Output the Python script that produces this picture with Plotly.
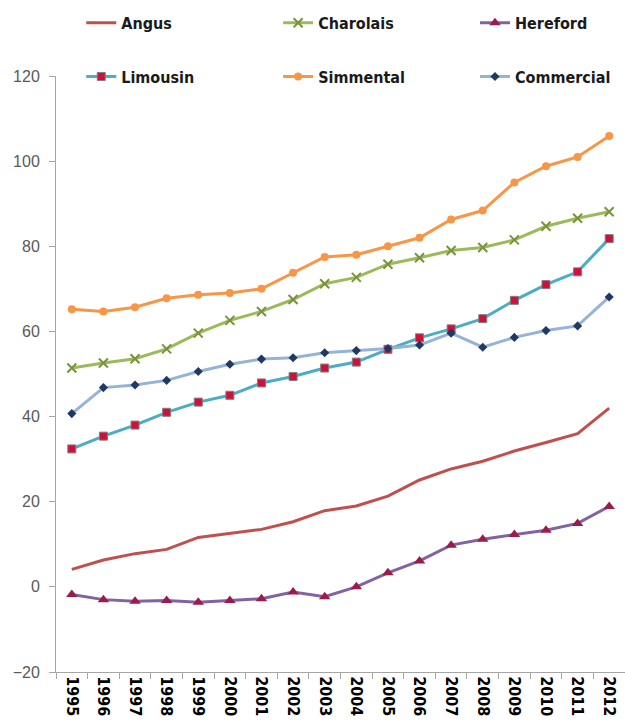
import plotly.graph_objects as go

years = [str(y) for y in range(1995, 2013)]
angus = [4.1, 6.3, 7.8, 8.8, 11.6, 12.6, 13.5, 15.3, 17.9, 19.0, 21.3, 25.1, 27.7, 29.5, 31.9, 33.9, 36.0, 42.0]
charolais = [51.4, 52.6, 53.6, 55.9, 59.6, 62.6, 64.7, 67.5, 71.2, 72.7, 75.8, 77.3, 79.0, 79.7, 81.5, 84.7, 86.6, 88.1]
hereford = [-1.8, -3.0, -3.4, -3.2, -3.6, -3.2, -2.8, -1.2, -2.3, 0.0, 3.3, 6.1, 9.8, 11.2, 12.3, 13.3, 14.9, 18.9]
limousin = [32.4, 35.4, 38.0, 41.0, 43.4, 45.0, 47.9, 49.4, 51.4, 52.8, 55.8, 58.5, 60.6, 63.0, 67.3, 71.0, 74.0, 81.8]
simmental = [65.2, 64.7, 65.7, 67.8, 68.6, 69.0, 70.0, 73.8, 77.5, 78.0, 80.0, 82.0, 86.3, 88.4, 95.0, 98.8, 101.0, 105.9]
commercial = [40.7, 46.8, 47.4, 48.5, 50.6, 52.3, 53.5, 53.8, 55.0, 55.5, 56.0, 56.8, 59.6, 56.3, 58.6, 60.2, 61.3, 68.1]
y_ticks = [-20, 0, 20, 40, 60, 80, 100, 120]

fig = go.Figure()

def add(name, vals, color, legend, group, marker=None):
    kw = dict(x=years, y=vals, name=name, legend=legend, legendgroup=group,
              line=dict(color=color, width=3))
    if marker is None:
        kw["mode"] = "lines"
    else:
        kw["mode"] = "lines+markers"
        kw["marker"] = marker
    fig.add_trace(go.Scatter(**kw))

add("Angus", angus, "#C0504D", "legend", "a")
add("Limousin", limousin, "#4BACC6", "legend", "b",
    dict(symbol="square", size=8, color="#D0103A", line=dict(color="#7F7F7F", width=1)))
add("Charolais", charolais, "#9BBB59", "legend2", "c",
    dict(symbol="x-thin", size=9, color="#9BBB59", line=dict(color="#77933C", width=2)))
add("Simmental", simmental, "#F79646", "legend2", "d",
    dict(symbol="circle", size=8, color="#F79646"))
add("Hereford", hereford, "#8064A2", "legend3", "e",
    dict(symbol="triangle-up", size=10, color="#9B1B4B"))
add("Commercial", commercial, "#95B3D7", "legend3", "f",
    dict(symbol="diamond", size=7, color="#1F3864"))

legend_font = dict(family="DejaVu Sans Condensed, sans-serif", size=16, color="#1a1a1a", weight="bold")
leg_common = dict(xref="container", yref="container", xanchor="left", yanchor="top",
                  y=0.992, font=legend_font, tracegroupgap=30, bgcolor="rgba(0,0,0,0)",
                  itemwidth=30)

fig.update_layout(
    width=625, height=724,
    margin=dict(l=56, r=0, t=76, b=52, autoexpand=False),
    paper_bgcolor="white", plot_bgcolor="white",
    showlegend=True,
    legend=dict(x=0.13, **leg_common),
    legend2=dict(x=0.445, **leg_common),
    legend3=dict(x=0.76, **leg_common),
    xaxis=dict(
        type="category", tickangle=90, showgrid=False, showline=True,
        linecolor="#A6A6A6", linewidth=1, ticks="outside", ticklen=6, tickcolor="#A6A6A6",
        tickson="boundaries", range=[-0.5, 17.5],
        tickfont=dict(family="DejaVu Sans Condensed, sans-serif", size=16, color="#000000", weight="bold"),
    ),
    yaxis=dict(
        range=[-20, 120], tickvals=y_ticks, showgrid=False, zeroline=False,
        showline=True, linecolor="#A6A6A6", linewidth=1, ticks="outside", ticklen=6,
        tickcolor="#A6A6A6", ticklabelstandoff=6,
        tickfont=dict(family="Liberation Sans, sans-serif", size=16, color="#595959"),
    ),
)

fig.write_html("out.html")
